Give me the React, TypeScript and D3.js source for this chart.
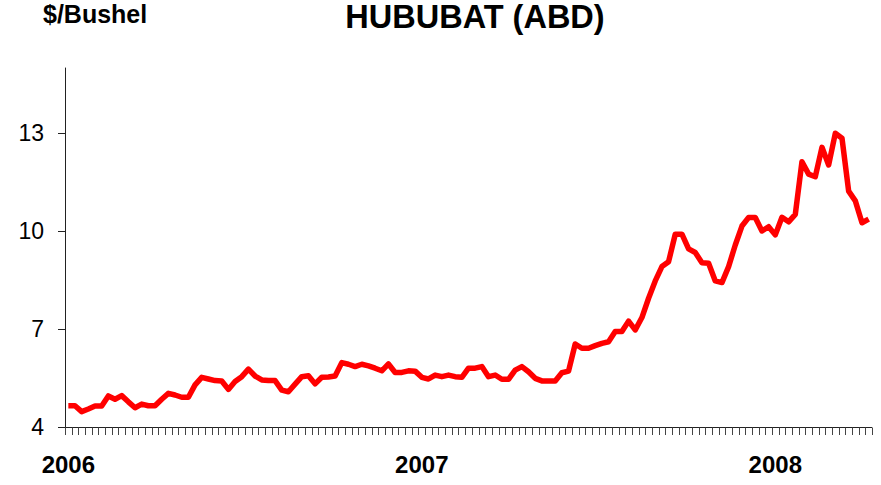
import React from "react";
import * as d3 from "d3";

const prices: number[] = [
  4.65, 4.65, 4.47, 4.55, 4.64, 4.64, 4.95, 4.85, 4.96, 4.77,
  4.59, 4.70, 4.65, 4.65, 4.85, 5.03, 4.98, 4.91, 4.91, 5.29,
  5.52, 5.47, 5.42, 5.41, 5.15, 5.39, 5.54, 5.77, 5.56, 5.44,
  5.42, 5.42, 5.13, 5.08, 5.31, 5.54, 5.57, 5.32, 5.52, 5.53,
  5.56, 5.97, 5.92, 5.85, 5.92, 5.87, 5.80, 5.72, 5.93, 5.67,
  5.67, 5.72, 5.71, 5.52, 5.47, 5.59, 5.54, 5.59, 5.54, 5.52,
  5.80, 5.80, 5.85, 5.54, 5.59, 5.46, 5.46, 5.74, 5.85, 5.69,
  5.49, 5.41, 5.41, 5.41, 5.66, 5.71, 6.54, 6.41, 6.41, 6.49,
  6.56, 6.61, 6.92, 6.92, 7.24, 6.97, 7.35, 7.94, 8.47, 8.91,
  9.06, 9.90, 9.90, 9.45, 9.34, 9.03, 9.01, 8.47, 8.42, 8.91,
  9.57, 10.15, 10.41, 10.41, 10.0, 10.13, 9.88, 10.42, 10.28, 10.51,
  12.12, 11.74, 11.66, 12.56, 12.02, 12.99, 12.84, 11.22, 10.92, 10.25,
  10.36,
];

const yTicks: number[] = [4, 7, 10, 13];
const yearLabels: string[] = ["2006", "2007", "2008"];
const yearIndex: number[] = [0, 53, 106];

const title = "HUBUBAT (ABD)";
const unitLabel = "$/Bushel";

export default function App() {
  const W = 881;
  const H = 485;
  const n = prices.length;
  const x = d3.scaleLinear().domain([0, n]).range([65, 872]);
  const y = d3.scaleLinear().domain([4, 15]).range([427, 67.6]);
  const line = d3
    .line<number>()
    .x((_, i) => x(i + 0.5))
    .y((d) => y(d));
  const font = "'Liberation Sans', Arial, Helvetica, sans-serif";
  const tickIdx = d3.range(0, n + 1);

  return (
    <div style={{ position: "absolute", left: 0, top: 0 }}>
      <svg width={W} height={H} style={{ display: "block", background: "#fff" }} fontFamily={font}>
        <rect width={W} height={H} fill="#fff" />
        <text x={475} y={28} textAnchor="middle" fontSize={32.5} fontWeight="bold" fill="#000">
          {title}
        </text>
        <text x={43} y={23} fontSize={25} fontWeight="bold" fill="#000">
          {unitLabel}
        </text>
        {/* y axis */}
        <line x1={65.5} x2={65.5} y1={y(15)} y2={y(4)} stroke="#222" strokeWidth={1} />
        {yTicks.map((t) => (
          <g key={t}>
            <line x1={58} x2={65.5} y1={Math.round(y(t)) + 0.5} y2={Math.round(y(t)) + 0.5} stroke="#222" />
            <text x={44} y={y(t) + 8} textAnchor="end" fontSize={23} fill="#000">
              {t}
            </text>
          </g>
        ))}
        {/* x axis */}
        <line x1={58} x2={872} y1={427.5} y2={427.5} stroke="#222" strokeWidth={1} />
        {tickIdx.map((k) => (
          <line
            key={k}
            x1={Math.round(x(k)) + 0.5}
            x2={Math.round(x(k)) + 0.5}
            y1={427.5}
            y2={435}
            stroke="#444"
            strokeWidth={1}
          />
        ))}
        {yearLabels.map((lab, j) => (
          <text
            key={lab}
            x={x(yearIndex[j] + 0.5)}
            y={473}
            textAnchor="middle"
            fontSize={24}
            fontWeight="bold"
            fill="#000"
          >
            {lab}
          </text>
        ))}
        <path
          d={line(prices) || ""}
          fill="none"
          stroke="#ff0000"
          strokeWidth={5.5}
          strokeLinejoin="round"
          strokeLinecap="butt"
        />
      </svg>
    </div>
  );
}
